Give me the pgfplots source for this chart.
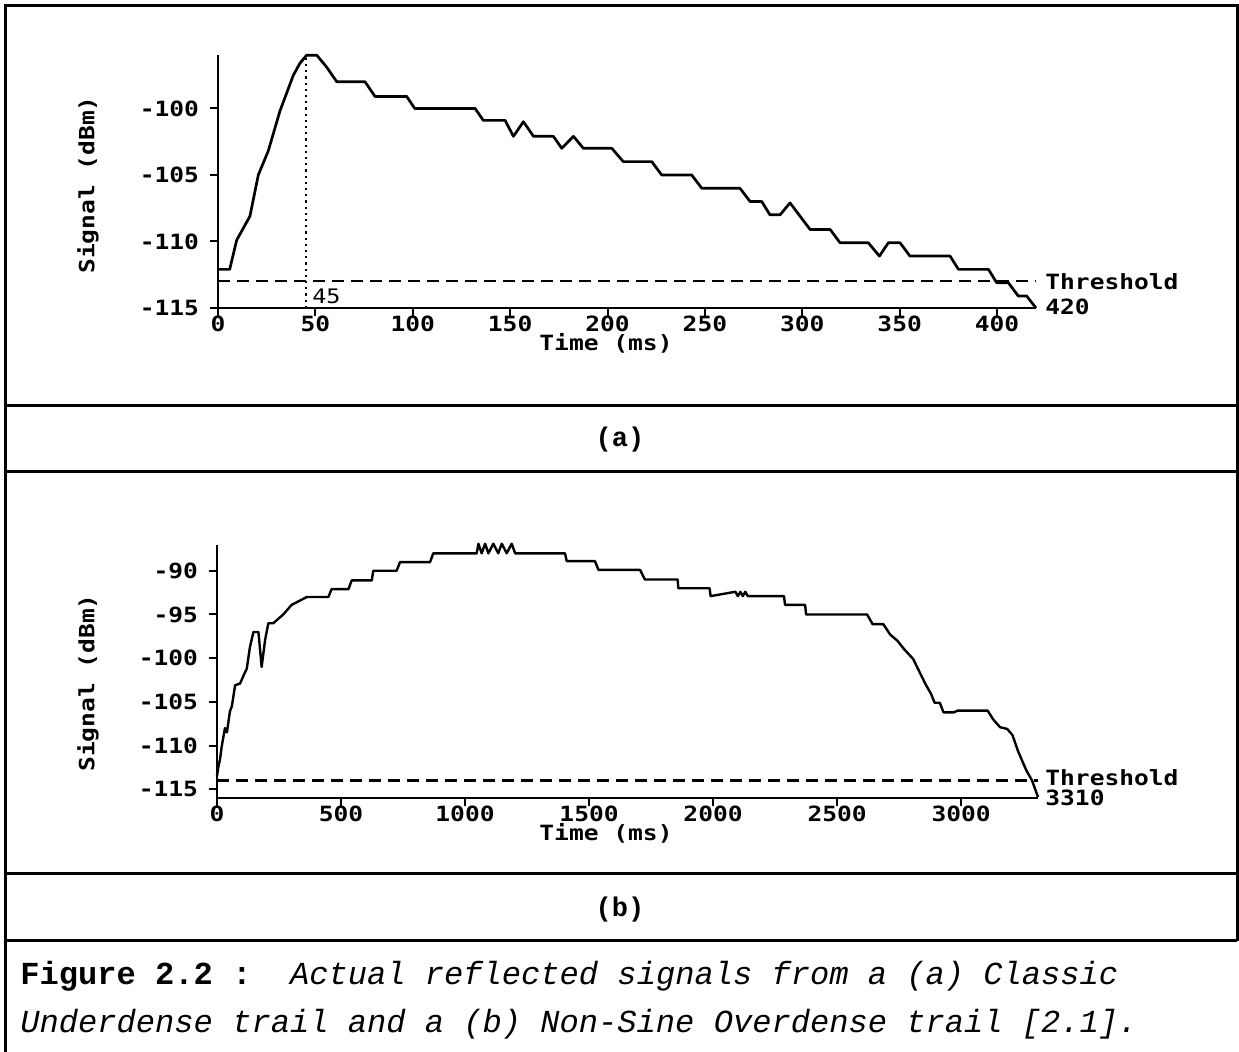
\documentclass[border=0pt]{standalone}
\usepackage{pgfplots}
\pgfplotsset{compat=1.18}
\usepackage{fontspec}
\setmainfont{Liberation Mono}
\newfontfamily\cf{DejaVu Sans Mono}[FakeStretch=1.17]
\newfontfamily\capf{Liberation Mono}
\newcommand{\tk}{\cf\bfseries\fontsize{10.5}{12}\selectfont}

\pgfplotstableread{
t s
0 -112.1
6 -112.1
9.6 -109.9
13 -109
16.4 -108.1
20.7 -105
25.8 -103.2
31.8 -100.2
38.7 -97.5
42.1 -96.6
45.5 -96
50.7 -96
55.8 -96.9
61 -98
75.5 -98
80.6 -99.1
96.9 -99.1
101 -100
132 -100
136.2 -100.9
147.4 -100.9
151.7 -102.1
156.8 -101
162 -102.1
172.2 -102.1
176.5 -103
182.5 -102.1
187.6 -103
202.2 -103
208.1 -104
222.7 -104
227.8 -105
243.2 -105
248.4 -106
268 -106
273.2 -107
279.2 -107
283.4 -108
288.6 -108
293.7 -107.1
304 -109.1
314.3 -109.1
319.4 -110.1
333.9 -110.1
339.6 -111.1
344.2 -110.1
350.2 -110.1
355.3 -111.1
375.9 -111.1
380.2 -112.1
395.6 -112.1
399.8 -113.1
405.8 -113.1
410.9 -114.1
415.2 -114.1
420 -115
}\dataA

\pgfplotstableread{
t s
0 -113.5
5 -112.5
12 -111.6
19 -110.1
32 -108
40 -108.5
52 -106.1
60 -105.5
73 -103.1
93 -102.9
110 -101.8
120 -101.2
133 -98.7
147 -97
167 -97
180 -101
194 -97.9
207 -96
227 -96
267 -95
301 -93.9
362 -93
449 -93
462 -92.1
530 -92.1
543 -91.1
624 -91.1
630 -90
724 -90
738 -89
859 -89
872 -88
1047 -88
1054 -86.9
1067 -88
1081 -86.9
1094 -88
1114 -86.9
1134 -88
1148 -86.9
1168 -88
1188 -86.9
1202 -88
1403 -88
1410 -88.9
1524 -88.9
1538 -89.9
1706 -89.9
1725 -91
1857 -91
1860 -92
1986 -92
1990 -92.9
2090 -92.4
2100 -92.9
2110 -92.4
2120 -92.9
2130 -92.4
2140 -92.9
2286 -92.9
2290 -93.9
2371 -93.9
2375 -95
2621 -95
2643 -96.1
2686 -96.1
2714 -97.3
2743 -98
2771 -99
2807 -100.1
2836 -101.8
2857 -103
2879 -104.1
2893 -105.1
2914 -105.1
2929 -106.2
2971 -106.2
2986 -106
3107 -106
3129 -107
3157 -107.9
3186 -108.1
3207 -108.8
3229 -110.6
3250 -112
3264 -112.9
3286 -114
3310 -115.9
}\dataB

\pgfplotsset{
  myax/.style={
    scale only axis, anchor=south west,
    axis lines=left, axis line style={-, line width=1.1pt},
    enlargelimits=false, clip=false,
    tick align=outside,
    major tick length=4pt,
    every tick/.style={line width=1pt, black},
    tick label style={font=\tk},
    xticklabel style={yshift=3.5pt},
    yticklabel style={xshift=-2pt},
  }
}

\begin{document}
\begin{tikzpicture}
\path[use as bounding box] (0,0) rectangle (619.5pt,526pt);
% frame
\draw[line width=1.5pt] (2.5pt,0pt) -- (2.5pt,523pt) -- (618.5pt,523pt) -- (618.5pt,55.5pt);
\draw[line width=1.5pt] (2.5pt,323pt) -- (618.5pt,323pt);
\draw[line width=1.5pt] (2.5pt,290pt) -- (618.5pt,290pt);
\draw[line width=1.5pt] (2.5pt,89pt) -- (618.5pt,89pt);
\draw[line width=1.5pt] (2.5pt,55.5pt) -- (618.5pt,55.5pt);

% panel (a)
\begin{axis}[myax,
  at={(109pt,372pt)}, width=409pt, height=126.4pt,
  xmin=0, xmax=420, ymin=-115, ymax=-96,
  xtick={0,50,100,150,200,250,300,350,400},
  xticklabels={0,50,100,150,200,250,300,350,400},
  ytick={-115,-110,-105,-100},
  yticklabels={-115,-110,-105,-100},
]
\addplot[black, line width=1.35pt, line join=round] table[x=t,y=s] {\dataA};
\addplot[black, line width=1.1pt, dash pattern=on 6pt off 3.5pt] coordinates {(0,-113) (420,-113)};
\addplot[black, line width=1.1pt, dotted] coordinates {(45,-115) (45,-96)};
\end{axis}
\node[anchor=west, inner sep=0pt, font=\cf\fontsize{10}{12}\selectfont] at (156pt,378pt) {45};
\node[anchor=west, inner sep=0pt, font=\tk] at (522.5pt,385pt) {Threshold};
\node[anchor=west, inner sep=0pt, font=\tk] at (522.5pt,372.5pt) {420};
\node[font=\tk] at (303pt,354.5pt) {Time (ms)};
\node[font=\tk, rotate=90] at (44pt,433.5pt) {Signal (dBm)};
\node[font=\capf\bfseries\fontsize{13.5}{14}\selectfont] at (310pt,306pt) {(a)};

% panel (b)
\begin{axis}[myax,
  at={(108.5pt,127pt)}, width=410.5pt, height=126.7pt,
  xmin=0, xmax=3310, ymin=-116, ymax=-87,
  xtick={0,500,1000,1500,2000,2500,3000},
  xticklabels={0,500,1000,1500,2000,2500,3000},
  ytick={-115,-110,-105,-100,-95,-90},
  yticklabels={-115,-110,-105,-100,-95,-90},
]
\addplot[black, line width=1.2pt, line join=round] table[x=t,y=s] {\dataB};
\addplot[black, line width=1.1pt, dash pattern=on 6pt off 3.5pt] coordinates {(0,-114) (3310,-114)};
\end{axis}
\node[anchor=west, inner sep=0pt, font=\tk] at (522.5pt,137pt) {Threshold};
\node[anchor=west, inner sep=0pt, font=\tk] at (522.5pt,127pt) {3310};
\node[font=\tk] at (303pt,109.3pt) {Time (ms)};
\node[font=\tk, rotate=90] at (44pt,184.5pt) {Signal (dBm)};
\node[font=\capf\bfseries\fontsize{13.5}{14}\selectfont] at (310pt,71pt) {(b)};

% caption
\node[anchor=base west, inner sep=0pt, font=\capf\fontsize{16.05}{18}\selectfont] at (10pt,33.5pt)
  {\textbf{Figure~2.2~:}~~\textit{Actual reflected signals from a (a) Classic}};
\node[anchor=base west, inner sep=0pt, font=\capf\fontsize{16.05}{18}\selectfont] at (10pt,9.5pt)
  {\textit{Underdense trail and a (b) Non-Sine Overdense trail [2.1].}};
\end{tikzpicture}
\end{document}
